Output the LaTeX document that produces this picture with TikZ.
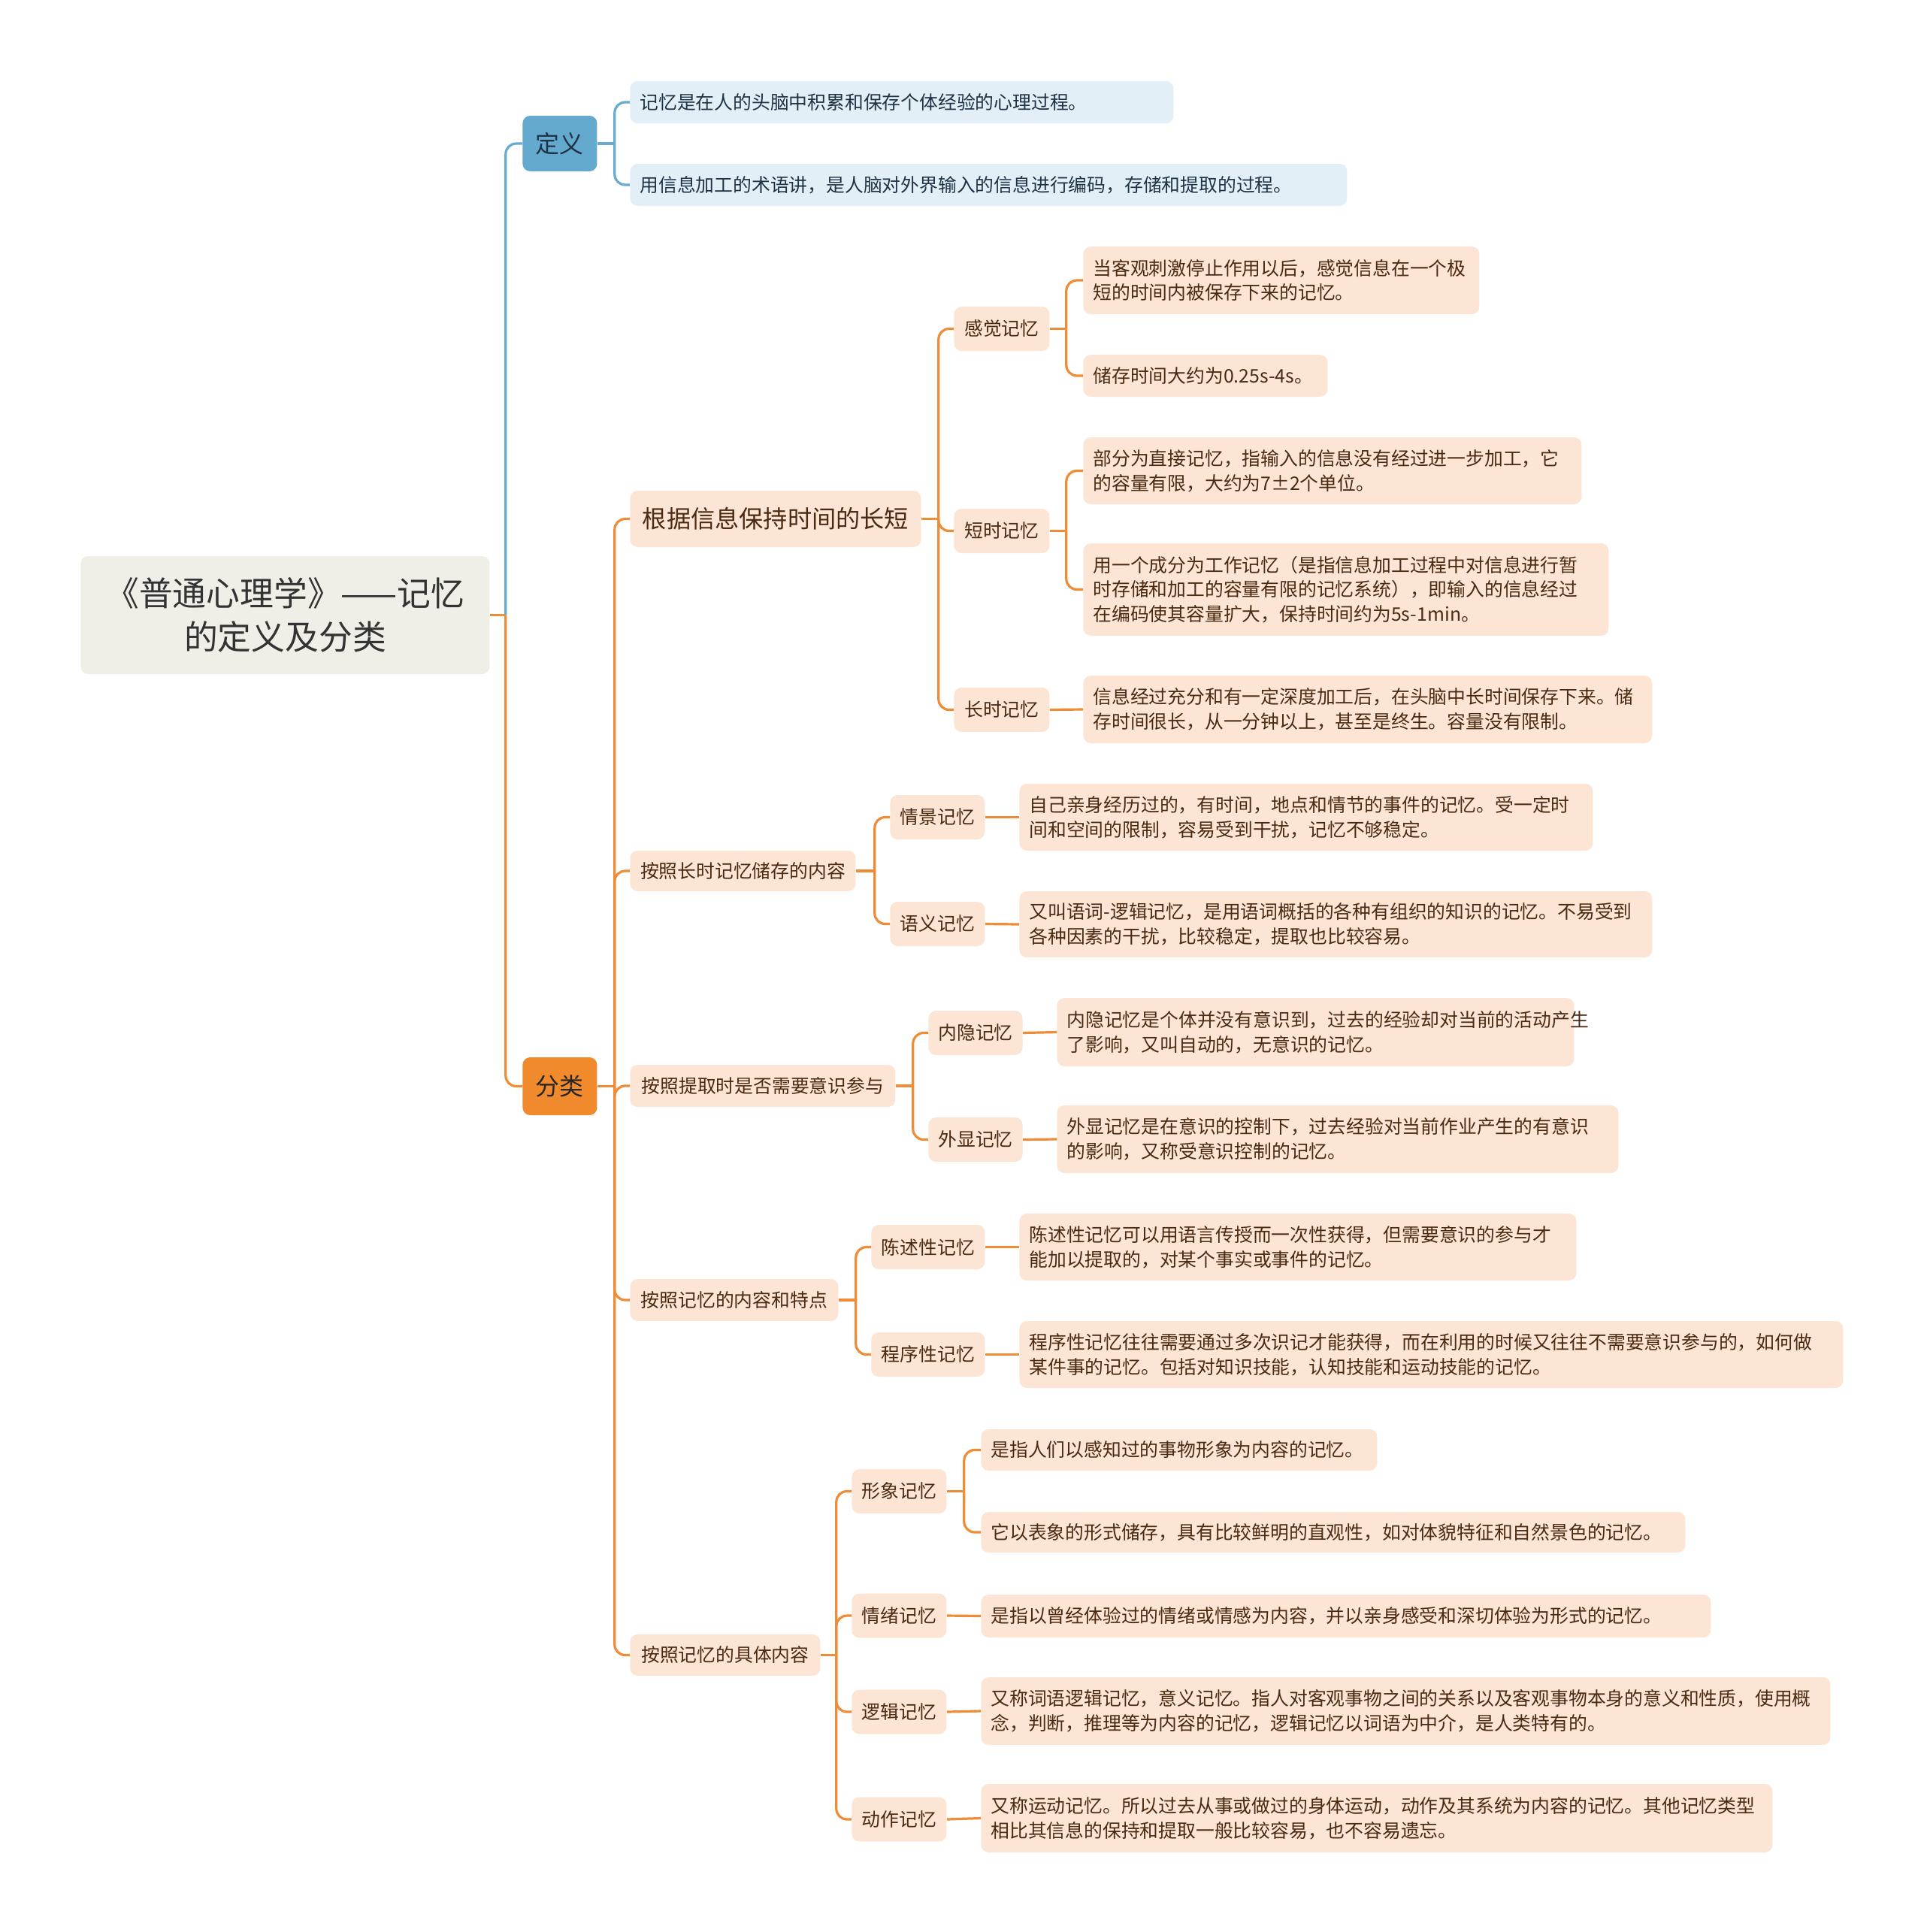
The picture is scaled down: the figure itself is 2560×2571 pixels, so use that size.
\documentclass[tikz,border=0pt]{standalone}
\usepackage{fontspec}
\setmainfont{Noto Sans CJK SC}
\definecolor{peach}{HTML}{FCE5D4}
\definecolor{lblue}{HTML}{E2EFF7}
\definecolor{rootbg}{HTML}{EFEFE7}
\definecolor{defbg}{HTML}{64AACF}
\definecolor{clsbg}{HTML}{F08A2C}
\definecolor{oline}{HTML}{EE8C37}
\definecolor{bline}{HTML}{66ACD0}
\definecolor{brownT}{HTML}{4A2A12}
\definecolor{navyT}{HTML}{1F3345}
\tikzset{
  boxbase/.style={rounded corners=5pt, inner xsep=6.5pt, inner ysep=2pt, anchor=west,
    font=\fontsize{12.4}{16.4}\selectfont},
  leafbox/.style 2 args={boxbase, fill=peach, text=brownT, align=left, text width=#1, minimum height=#2},
  defleaf/.style 2 args={boxbase, fill=lblue, text=navyT, align=left, text width=#1, minimum height=#2},
  midbox/.style 2 args={boxbase, fill=peach, text=brownT, align=center, minimum width=#1, minimum height=#2},
  ol/.style={draw=oline, line width=1.6pt, rounded corners=7pt},
  bl/.style={draw=bline, line width=1.6pt, rounded corners=7pt},
}
\begin{document}
\begin{tikzpicture}[x=0.5pt,y=-0.5pt]
\useasboundingbox (0,0) rectangle (2560,2571);
\fill[white] (0,0) rectangle (2560,2571);

% root
\node[boxbase, fill=rootbg, text=black!80, align=center, minimum width=272pt, minimum height=78.5pt,
  font=\fontsize{22.4}{28.7}\selectfont] (root) at (107,818.5) {《普通心理学》——记忆\\的定义及分类};

% level 1
\node[boxbase, fill=defbg, text=navyT, minimum width=49.5pt, minimum height=37pt, inner xsep=2pt,
  font=\fontsize{16}{20}\selectfont] (def) at (695,191) {定义};
\node[boxbase, fill=clsbg, text=black!85, minimum width=49.5pt, minimum height=38.5pt, inner xsep=2pt,
  font=\fontsize{16}{20}\selectfont] (cls) at (695,1445.5) {分类};

% definitions
\node[defleaf={348.5pt}{28pt}] (d1) at (838,136) {记忆是在人的头脑中积累和保存个体经验的心理过程。};
\node[defleaf={464pt}{28pt}] (d2) at (838,246) {用信息加工的术语讲，是人脑对外界输入的信息进行编码，存储和提取的过程。};

% level 2
\node[midbox={193.5pt}{37.5pt}, font=\fontsize{16.1}{20}\selectfont] (c1) at (838,690.5) {根据信息保持时间的长短};
\node[midbox={150pt}{27pt}] (c2) at (838,1159) {按照长时记忆储存的内容};
\node[midbox={176.5pt}{28pt}] (c3) at (838,1445) {按照提取时是否需要意识参与};
\node[midbox={138.5pt}{28pt}] (c4) at (838,1730) {按照记忆的内容和特点};
\node[midbox={126.5pt}{27.5pt}] (c5) at (838,2202.5) {按照记忆的具体内容};

% level 3
\node[midbox={63.5pt}{29.5pt}] (m11) at (1269,437.5) {感觉记忆};
\node[midbox={63.5pt}{29.5pt}] (m12) at (1269,706.5) {短时记忆};
\node[midbox={63.5pt}{29.5pt}] (m13) at (1269,944.5) {长时记忆};
\node[midbox={63pt}{29.5pt}] (m21) at (1184,1087.5) {情景记忆};
\node[midbox={63pt}{29.5pt}] (m22) at (1184,1229.5) {语义记忆};
\node[midbox={62.5pt}{29.5pt}] (m31) at (1235,1374.5) {内隐记忆};
\node[midbox={62.5pt}{29.5pt}] (m32) at (1235,1516.5) {外显记忆};
\node[midbox={75.5pt}{29.5pt}] (m41) at (1159,1659.5) {陈述性记忆};
\node[midbox={75.5pt}{29.5pt}] (m42) at (1159,1802.5) {程序性记忆};
\node[midbox={63pt}{29.5pt}] (m51) at (1133,1984.5) {形象记忆};
\node[midbox={63pt}{29.5pt}] (m52) at (1133,2150) {情绪记忆};
\node[midbox={63pt}{29.5pt}] (m53) at (1133,2278) {逻辑记忆};
\node[midbox={63pt}{29.5pt}] (m54) at (1133,2421) {动作记忆};

% leaves
\node[leafbox={250.5pt}{45pt}] (l111) at (1441,373) {当客观刺激停止作用以后，感觉信息在一个极\\短的时间内被保存下来的记忆。};
\node[leafbox={149.5pt}{28pt}] (l112) at (1441,500) {储存时间大约为0.25s-4s。};
\node[leafbox={318.5pt}{44.5pt}] (l121) at (1441,626.5) {部分为直接记忆，指输入的信息没有经过进一步加工，它\\的容量有限，大约为7±2个单位。};
\node[leafbox={336.5pt}{61.5pt}] (l122) at (1441,784.5) {用一个成分为工作记忆（是指信息加工过程中对信息进行暂\\时存储和加工的容量有限的记忆系统），即输入的信息经过\\在编码使其容量扩大，保持时间约为5s-1min。};
\node[leafbox={365.5pt}{45pt}] (l131) at (1441,944) {信息经过充分和有一定深度加工后，在头脑中长时间保存下来。储\\存时间很长，从一分钟以上，甚至是终生。容量没有限制。};
\node[leafbox={368.5pt}{44.5pt}] (l211) at (1356,1087.5) {自己亲身经历过的，有时间，地点和情节的事件的记忆。受一定时\\间和空间的限制，容易受到干扰，记忆不够稳定。};
\node[leafbox={408pt}{44pt}] (l221) at (1356,1230) {又叫语词-逻辑记忆，是用语词概括的各种有组织的知识的记忆。不易受到\\各种因素的干扰，比较稳定，提取也比较容易。};
\node[leafbox={331pt}{45.5pt}] (l311) at (1406,1373.5) {内隐记忆是个体并没有意识到，过去的经验却对当前的活动产生\\了影响，又叫自动的，无意识的记忆。};
\node[leafbox={360.5pt}{45pt}] (l321) at (1406,1516) {外显记忆是在意识的控制下，过去经验对当前作业产生的有意识\\的影响，又称受意识控制的记忆。};
\node[leafbox={357.5pt}{44.5pt}] (l411) at (1356,1659.5) {陈述性记忆可以用语言传授而一次性获得，但需要意识的参与才\\能加以提取的，对某个事实或事件的记忆。};
\node[leafbox={535pt}{44.5pt}] (l421) at (1356,1802.5) {程序性记忆往往需要通过多次识记才能获得，而在利用的时候又往往不需要意识参与的，如何做\\某件事的记忆。包括对知识技能，认知技能和运动技能的记忆。};
\node[leafbox={250.5pt}{27.5pt}] (l511) at (1305,1929.5) {是指人们以感知过的事物形象为内容的记忆。};
\node[leafbox={455.5pt}{27pt}] (l512) at (1305,2039) {它以表象的形式储存，具有比较鲜明的直观性，如对体貌特征和自然景色的记忆。};
\node[leafbox={472.5pt}{28.5pt}] (l521) at (1305,2150.5) {是指以曾经体验过的情绪或情感为内容，并以亲身感受和深切体验为形式的记忆。};
\node[leafbox={552pt}{45pt}] (l531) at (1305,2277) {又称词语逻辑记忆，意义记忆。指人对客观事物之间的关系以及客观事物本身的意义和性质，使用概\\念，判断，推理等为内容的记忆，逻辑记忆以词语为中介，是人类特有的。};
\node[leafbox={513.5pt}{45.5pt}] (l541) at (1305,2419.5) {又称运动记忆。所以过去从事或做过的身体运动，动作及其系统为内容的记忆。其他记忆类型\\相比其信息的保持和提取一般比较容易，也不容易遗忘。};

% connectors
\draw[ol] (root.east) -- ++(21,0) coordinate (tr);
\draw[bl] (tr) |- (def.west);
\draw[ol] (tr) |- (cls.west);

\draw[bl] (def.east) -- ++(23,0) coordinate (td);
\foreach \c in {d1,d2} \draw[bl] (td) |- (\c.west);

\draw[ol] (cls.east) -- ++(23,0) coordinate (tc);
\foreach \c in {c1,c2,c3,c4,c5} \draw[ol] (tc) |- (\c.west);

\draw[ol] (c1.east) -- ++(23,0) coordinate (t1);
\foreach \c in {m11,m12,m13} \draw[ol] (t1) |- (\c.west);
\draw[ol] (c2.east) -- ++(25,0) coordinate (t2);
\foreach \c in {m21,m22} \draw[ol] (t2) |- (\c.west);
\draw[ol] (c3.east) -- ++(23,0) coordinate (t3);
\foreach \c in {m31,m32} \draw[ol] (t3) |- (\c.west);
\draw[ol] (c4.east) -- ++(23,0) coordinate (t4);
\foreach \c in {m41,m42} \draw[ol] (t4) |- (\c.west);
\draw[ol] (c5.east) -- ++(21,0) coordinate (t5);
\foreach \c in {m51,m52,m53,m54} \draw[ol] (t5) |- (\c.west);

\draw[ol] (m11.east) -- ++(22,0) coordinate (t11);
\foreach \c in {l111,l112} \draw[ol] (t11) |- (\c.west);
\draw[ol] (m12.east) -- ++(22,0) coordinate (t12);
\foreach \c in {l121,l122} \draw[ol] (t12) |- (\c.west);
\draw[ol] (m13.east) -- (l131.west);
\draw[ol] (m21.east) -- (l211.west);
\draw[ol] (m22.east) -- (l221.west);
\draw[ol] (m31.east) -- (l311.west);
\draw[ol] (m32.east) -- (l321.west);
\draw[ol] (m41.east) -- (l411.west);
\draw[ol] (m42.east) -- (l421.west);
\draw[ol] (m51.east) -- ++(23,0) coordinate (t51);
\foreach \c in {l511,l512} \draw[ol] (t51) |- (\c.west);
\draw[ol] (m52.east) -- (l521.west);
\draw[ol] (m53.east) -- (l531.west);
\draw[ol] (m54.east) -- (l541.west);
\end{tikzpicture}
\end{document}
